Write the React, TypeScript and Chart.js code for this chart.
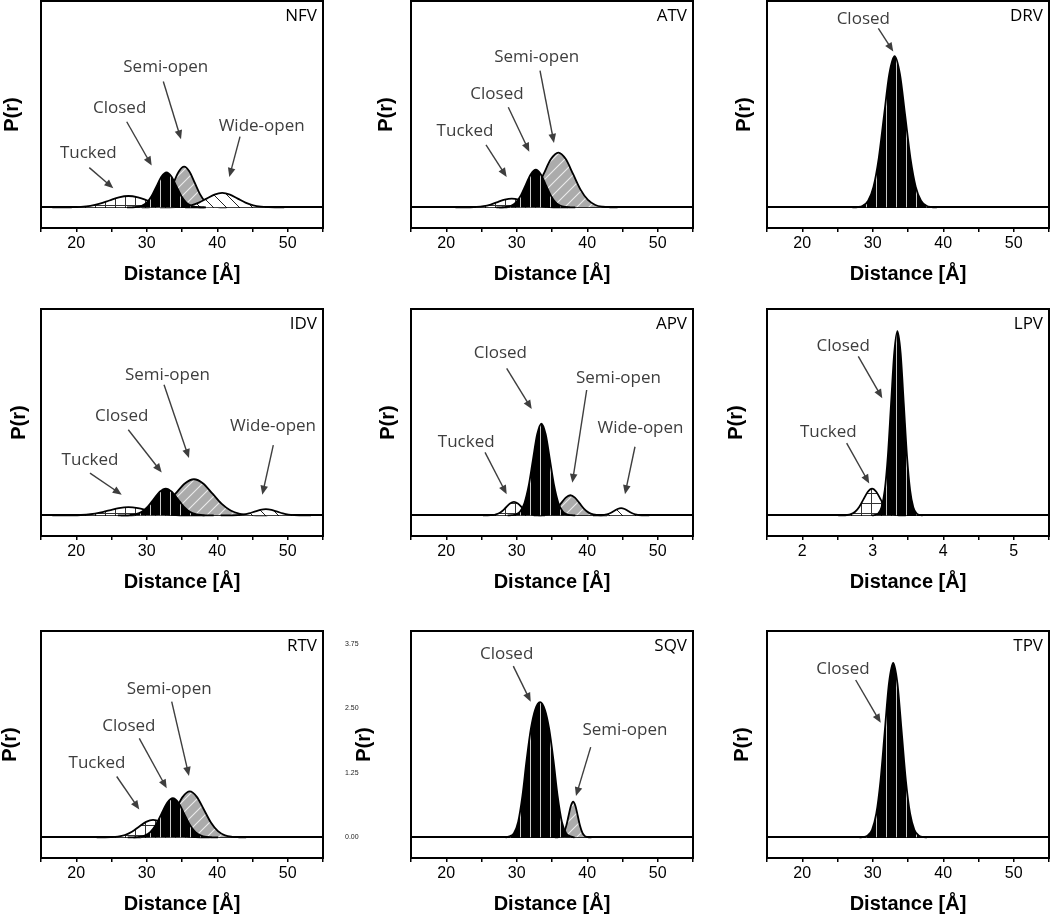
import React, { useEffect, useRef } from 'react';
import { Chart, registerables } from 'chart.js';

Chart.register(...registerables);

// ---------------- data ----------------
const X_TICKS_DIST = [15, 20, 25, 30, 35, 40, 45, 50, 55];
const X_LABELS_DIST = [20, 30, 40, 50];
const X_TICKS_LPV = [1.5, 2, 2.5, 3, 3.5, 4, 4.5, 5, 5.5];
const X_LABELS_LPV = [2, 3, 4, 5];
const Y_TICKS_SQV = [0, 1.25, 2.5, 3.75];
const Y_TICKS_PLAIN = [0];
const X_TITLE = 'Distance [Å]';
const Y_TITLE = 'P(r)';

const NFV_TUCKED_X = [16.6, 17.95, 19.3, 20.65, 22.0, 23.35, 24.7, 26.05, 27.4, 28.75, 30.1, 31.45, 32.8, 34.15, 35.5, 36.85, 38.2];
const NFV_TUCKED_Y = [0, 0.0005, 0.0024, 0.0097, 0.0298, 0.0714, 0.1334, 0.1942, 0.22, 0.1942, 0.1334, 0.0714, 0.0298, 0.0097, 0.0024, 0.0005, 0];
const NFV_CLOSED_X = [27.2, 27.9, 28.6, 29.3, 30.0, 30.7, 31.4, 32.1, 32.8, 33.5, 34.2, 34.9, 35.6, 36.3, 37.0, 37.7, 38.4];
const NFV_CLOSED_Y = [0, 0.0015, 0.0075, 0.0299, 0.092, 0.2208, 0.4124, 0.6001, 0.68, 0.6001, 0.4124, 0.2208, 0.092, 0.0299, 0.0075, 0.0015, 0];
const NFV_SEMI_X = [29.3, 30.05, 30.8, 31.55, 32.3, 33.05, 33.8, 34.55, 35.3, 36.05, 36.8, 37.55, 38.3, 39.05, 39.8, 40.55, 41.3];
const NFV_SEMI_Y = [0, 0.0017, 0.0088, 0.0347, 0.1069, 0.2565, 0.4791, 0.6972, 0.79, 0.6972, 0.4791, 0.2565, 0.1069, 0.0347, 0.0088, 0.0017, 0];
const NFV_WIDE_X = [31.9, 33.0, 34.1, 35.2, 36.3, 37.4, 38.5, 39.6, 40.7, 41.8, 42.9, 44.0, 45.1, 46.2, 47.3, 48.4, 49.5];
const NFV_WIDE_Y = [0, 0.0006, 0.0031, 0.0123, 0.0379, 0.0909, 0.1698, 0.2471, 0.28, 0.2471, 0.1698, 0.0909, 0.0379, 0.0123, 0.0031, 0.0006, 0];

const ATV_TUCKED_X = [21.3, 22.3, 23.3, 24.3, 25.3, 26.3, 27.3, 28.3, 29.3, 30.3, 31.3, 32.3, 33.3, 34.3, 35.3, 36.3, 37.3];
const ATV_TUCKED_Y = [0, 0.0004, 0.0019, 0.0075, 0.023, 0.0552, 0.1031, 0.15, 0.17, 0.15, 0.1031, 0.0552, 0.023, 0.0075, 0.0019, 0.0004, 0];
const ATV_CLOSED_X = [27.1, 27.8, 28.5, 29.2, 29.9, 30.6, 31.3, 32.0, 32.7, 33.4, 34.1, 34.8, 35.5, 36.2, 36.9, 37.6, 38.3];
const ATV_CLOSED_Y = [0, 0.0016, 0.0081, 0.032, 0.0988, 0.237, 0.4427, 0.6442, 0.73, 0.6442, 0.4427, 0.237, 0.0988, 0.032, 0.0081, 0.0016, 0];
const ATV_SEMI_X = [27.5, 28.55, 29.6, 30.65, 31.7, 32.75, 33.8, 34.85, 35.9, 36.95, 38.0, 39.05, 40.1, 41.15, 42.2, 43.25, 44.3];
const ATV_SEMI_Y = [0, 0.0023, 0.0118, 0.0465, 0.1434, 0.3442, 0.6429, 0.9355, 1.06, 0.9355, 0.6429, 0.3442, 0.1434, 0.0465, 0.0118, 0.0023, 0];

const DRV_CLOSED_X = [27.1, 27.85, 28.6, 29.35, 30.1, 30.85, 31.6, 32.35, 33.1, 33.85, 34.6, 35.35, 36.1, 36.85, 37.6, 38.35, 39.1];
const DRV_CLOSED_Y = [0, 0.0064, 0.0325, 0.1286, 0.3964, 0.9514, 1.777, 2.5857, 2.93, 2.5857, 1.777, 0.9514, 0.3964, 0.1286, 0.0325, 0.0064, 0];

const IDV_TUCKED_X = [16.6, 17.95, 19.3, 20.65, 22.0, 23.35, 24.7, 26.05, 27.4, 28.75, 30.1, 31.45, 32.8, 34.15, 35.5, 36.85, 38.2];
const IDV_TUCKED_Y = [0, 0.0004, 0.0018, 0.007, 0.0216, 0.052, 0.097, 0.1412, 0.16, 0.1412, 0.097, 0.052, 0.0216, 0.007, 0.0018, 0.0004, 0];
const IDV_CLOSED_X = [25.9, 26.75, 27.6, 28.45, 29.3, 30.15, 31.0, 31.85, 32.7, 33.55, 34.4, 35.25, 36.1, 36.95, 37.8, 38.65, 39.5];
const IDV_CLOSED_Y = [0, 0.0011, 0.0058, 0.0228, 0.0704, 0.1688, 0.3154, 0.4589, 0.52, 0.4589, 0.3154, 0.1688, 0.0704, 0.0228, 0.0058, 0.0011, 0];
const IDV_SEMI_X = [26.3, 27.6, 28.9, 30.2, 31.5, 32.8, 34.1, 35.4, 36.7, 38.0, 39.3, 40.6, 41.9, 43.2, 44.5, 45.8, 47.1];
const IDV_SEMI_Y = [0, 0.0015, 0.0078, 0.0307, 0.0947, 0.2273, 0.4246, 0.6178, 0.7, 0.6178, 0.4246, 0.2273, 0.0947, 0.0307, 0.0078, 0.0015, 0];
const IDV_WIDE_X = [40.5, 41.3, 42.1, 42.9, 43.7, 44.5, 45.3, 46.1, 46.9, 47.7, 48.5, 49.3, 50.1, 50.9, 51.7, 52.5, 53.3];
const IDV_WIDE_Y = [0, 0.0003, 0.0013, 0.0053, 0.0162, 0.039, 0.0728, 0.1059, 0.12, 0.1059, 0.0728, 0.039, 0.0162, 0.0053, 0.0013, 0.0003, 0];

const APV_TUCKED_X = [25.2, 25.75, 26.3, 26.85, 27.4, 27.95, 28.5, 29.05, 29.6, 30.15, 30.7, 31.25, 31.8, 32.35, 32.9, 33.45, 34.0];
const APV_TUCKED_Y = [0, 0.0006, 0.0029, 0.0114, 0.0352, 0.0844, 0.1577, 0.2295, 0.26, 0.2295, 0.1577, 0.0844, 0.0352, 0.0114, 0.0029, 0.0006, 0];
const APV_CLOSED_X = [28.7, 29.3, 29.9, 30.5, 31.1, 31.7, 32.3, 32.9, 33.5, 34.1, 34.7, 35.3, 35.9, 36.5, 37.1, 37.7, 38.3];
const APV_CLOSED_Y = [0, 0.0039, 0.0198, 0.0781, 0.2408, 0.578, 1.0796, 1.5709, 1.78, 1.5709, 1.0796, 0.578, 0.2408, 0.0781, 0.0198, 0.0039, 0];
const APV_SEMI_X = [32.4, 33.05, 33.7, 34.35, 35.0, 35.65, 36.3, 36.95, 37.6, 38.25, 38.9, 39.55, 40.2, 40.85, 41.5, 42.15, 42.8];
const APV_SEMI_Y = [0, 0.0009, 0.0043, 0.0171, 0.0528, 0.1266, 0.2365, 0.3442, 0.39, 0.3442, 0.2365, 0.1266, 0.0528, 0.0171, 0.0043, 0.0009, 0];
const APV_WIDE_X = [40.8, 41.3, 41.8, 42.3, 42.8, 43.3, 43.8, 44.3, 44.8, 45.3, 45.8, 46.3, 46.8, 47.3, 47.8, 48.3, 48.8];
const APV_WIDE_Y = [0, 0.0003, 0.0016, 0.0061, 0.0189, 0.0455, 0.0849, 0.1236, 0.14, 0.1236, 0.0849, 0.0455, 0.0189, 0.0061, 0.0016, 0.0003, 0];

const LPV_TUCKED_X = [2.51, 2.57, 2.63, 2.69, 2.75, 2.81, 2.87, 2.93, 2.99, 3.05, 3.11, 3.17, 3.23, 3.29, 3.35, 3.41, 3.47];
const LPV_TUCKED_Y = [0, 0.0011, 0.0058, 0.0228, 0.0704, 0.1688, 0.3154, 0.4589, 0.52, 0.4589, 0.3154, 0.1688, 0.0704, 0.0228, 0.0058, 0.0011, 0];
const LPV_CLOSED_X = [2.99, 3.035, 3.08, 3.125, 3.17, 3.215, 3.26, 3.305, 3.35, 3.395, 3.44, 3.485, 3.53, 3.575, 3.62, 3.665, 3.71];
const LPV_CLOSED_Y = [0, 0.0079, 0.0396, 0.1567, 0.483, 1.1592, 2.1652, 3.1505, 3.57, 3.1505, 2.1652, 1.1592, 0.483, 0.1567, 0.0396, 0.0079, 0];

const RTV_TUCKED_X = [22.9, 23.9, 24.9, 25.9, 26.9, 27.9, 28.9, 29.9, 30.9, 31.9, 32.9, 33.9, 34.9, 35.9, 36.9, 37.9, 38.9];
const RTV_TUCKED_Y = [0, 0.0007, 0.0038, 0.0149, 0.046, 0.1104, 0.2062, 0.3001, 0.34, 0.3001, 0.2062, 0.1104, 0.046, 0.0149, 0.0038, 0.0007, 0];
const RTV_CLOSED_X = [27.3, 28.1, 28.9, 29.7, 30.5, 31.3, 32.1, 32.9, 33.7, 34.5, 35.3, 36.1, 36.9, 37.7, 38.5, 39.3, 40.1];
const RTV_CLOSED_Y = [0, 0.0017, 0.0084, 0.0334, 0.1028, 0.2468, 0.4609, 0.6707, 0.76, 0.6707, 0.4609, 0.2468, 0.1028, 0.0334, 0.0084, 0.0017, 0];
const RTV_SEMI_X = [28.1, 29.1, 30.1, 31.1, 32.1, 33.1, 34.1, 35.1, 36.1, 37.1, 38.1, 39.1, 40.1, 41.1, 42.1, 43.1, 44.1];
const RTV_SEMI_Y = [0, 0.002, 0.0099, 0.039, 0.1204, 0.289, 0.5398, 0.7854, 0.89, 0.7854, 0.5398, 0.289, 0.1204, 0.039, 0.0099, 0.002, 0];

const SQV_CLOSED_X = [28.4, 29.0, 29.6, 30.2, 30.8, 31.4, 32.0, 32.6, 33.3, 34.0, 34.6, 35.2, 35.8, 36.4, 37.0, 37.6, 38.2];
const SQV_CLOSED_Y = [0, 0.02, 0.08, 0.3, 0.8, 1.5, 2.1, 2.47, 2.62, 2.47, 2.1, 1.5, 0.8, 0.3, 0.08, 0.02, 0];
const SQV_SEMI_X = [35.4, 35.725, 36.05, 36.375, 36.7, 37.025, 37.35, 37.675, 38.0, 38.325, 38.65, 38.975, 39.3, 39.625, 39.95, 40.275, 40.6];
const SQV_SEMI_Y = [0, 0.0015, 0.0077, 0.0303, 0.0934, 0.224, 0.4185, 0.6089, 0.69, 0.6089, 0.4185, 0.224, 0.0934, 0.0303, 0.0077, 0.0015, 0];

const TPV_CLOSED_X = [28.1, 28.7, 29.3, 29.9, 30.5, 31.1, 31.7, 32.3, 32.9, 33.5, 34.1, 34.7, 35.3, 35.9, 36.5, 37.1, 37.7];
const TPV_CLOSED_Y = [0, 0.0074, 0.0375, 0.1484, 0.4573, 1.0975, 2.05, 2.9829, 3.38, 2.9829, 2.05, 1.0975, 0.4573, 0.1484, 0.0375, 0.0074, 0];

// annotation labels with arrows, in data units: [text, textX, textY, fromX, fromY, toX, toY]
type Note = [string, number, number, number, number, number, number];
const NFV_NOTES: Note[] = [
  ['Tucked', 21.71, 1.06, 21.85, 0.77, 25.26, 0.37],
  ['Closed', 26.16, 1.92, 27.16, 1.66, 30.7, 0.81],
  ['Semi-open', 32.7, 2.71, 32.35, 2.44, 34.86, 1.32],
  ['Wide-open', 46.3, 1.58, 43.23, 1.37, 41.71, 0.59],
];
const ATV_NOTES: Note[] = [
  ['Semi-open', 32.83, 2.92, 33.3, 2.65, 35.28, 1.25],
  ['Closed', 27.2, 2.19, 28.8, 1.94, 31.78, 1.08],
  ['Tucked', 22.66, 1.47, 25.64, 1.21, 28.57, 0.59],
];
const DRV_NOTES: Note[] = [['Closed', 28.66, 3.65, 30.79, 3.47, 32.91, 3.02]];
const IDV_NOTES: Note[] = [
  ['Semi-open', 32.94, 2.72, 32.45, 2.53, 35.99, 1.11],
  ['Closed', 26.45, 1.93, 27.38, 1.66, 32.12, 0.83],
  ['Tucked', 21.95, 1.07, 21.95, 0.82, 26.45, 0.4],
  ['Wide-open', 47.91, 1.73, 47.95, 1.36, 46.39, 0.4],
];
const APV_NOTES: Note[] = [
  ['Closed', 27.67, 3.14, 28.57, 2.85, 32.12, 2.06],
  ['Semi-open', 44.43, 2.66, 39.92, 2.43, 37.88, 0.63],
  ['Wide-open', 47.55, 1.69, 46.77, 1.33, 45.35, 0.41],
  ['Tucked', 22.83, 1.41, 25.5, 1.22, 28.57, 0.41],
];
const LPV_NOTES: Note[] = [
  ['Closed', 2.58, 3.28, 2.795, 3.08, 3.135, 2.27],
  ['Tucked', 2.37, 1.62, 2.63, 1.4, 2.95, 0.62],
];
const RTV_NOTES: Note[] = [
  ['Semi-open', 33.18, 2.87, 33.54, 2.63, 35.99, 1.19],
  ['Closed', 27.46, 2.15, 28.94, 1.92, 32.83, 0.95],
  ['Tucked', 22.94, 1.44, 25.74, 1.18, 28.94, 0.54],
];
const SQV_NOTES: Note[] = [
  ['Closed', 28.57, 3.55, 29.51, 3.32, 31.98, 2.63],
  ['Semi-open', 45.35, 2.08, 40.49, 1.75, 38.4, 0.8],
];
const TPV_NOTES: Note[] = [['Closed', 25.78, 3.26, 27.58, 3.05, 31.13, 2.22]];

type State = 'tucked' | 'closed' | 'semi' | 'wide';
type Comp = { state: State; x: number[]; y: number[] };
type PanelCfg = {
  name: string; row: number; col: number; xMin: number; xMax: number;
  xTicks: number[]; xLabels: number[]; yTicks: number[]; showY: boolean;
  yTitleGap: number; comps: Comp[]; notes: Note[];
};

const PANELS: PanelCfg[] = [
  { name: 'NFV', row: 0, col: 0, xMin: 15, xMax: 55, xTicks: X_TICKS_DIST, xLabels: X_LABELS_DIST, yTicks: Y_TICKS_PLAIN, showY: false, yTitleGap: 29,
    comps: [{ state: 'tucked', x: NFV_TUCKED_X, y: NFV_TUCKED_Y }, { state: 'closed', x: NFV_CLOSED_X, y: NFV_CLOSED_Y }, { state: 'semi', x: NFV_SEMI_X, y: NFV_SEMI_Y }, { state: 'wide', x: NFV_WIDE_X, y: NFV_WIDE_Y }], notes: NFV_NOTES },
  { name: 'ATV', row: 0, col: 1, xMin: 15, xMax: 55, xTicks: X_TICKS_DIST, xLabels: X_LABELS_DIST, yTicks: Y_TICKS_PLAIN, showY: false, yTitleGap: 25,
    comps: [{ state: 'tucked', x: ATV_TUCKED_X, y: ATV_TUCKED_Y }, { state: 'closed', x: ATV_CLOSED_X, y: ATV_CLOSED_Y }, { state: 'semi', x: ATV_SEMI_X, y: ATV_SEMI_Y }], notes: ATV_NOTES },
  { name: 'DRV', row: 0, col: 2, xMin: 15, xMax: 55, xTicks: X_TICKS_DIST, xLabels: X_LABELS_DIST, yTicks: Y_TICKS_PLAIN, showY: false, yTitleGap: 23,
    comps: [{ state: 'closed', x: DRV_CLOSED_X, y: DRV_CLOSED_Y }], notes: DRV_NOTES },
  { name: 'IDV', row: 1, col: 0, xMin: 15, xMax: 55, xTicks: X_TICKS_DIST, xLabels: X_LABELS_DIST, yTicks: Y_TICKS_PLAIN, showY: false, yTitleGap: 22,
    comps: [{ state: 'tucked', x: IDV_TUCKED_X, y: IDV_TUCKED_Y }, { state: 'closed', x: IDV_CLOSED_X, y: IDV_CLOSED_Y }, { state: 'semi', x: IDV_SEMI_X, y: IDV_SEMI_Y }, { state: 'wide', x: IDV_WIDE_X, y: IDV_WIDE_Y }], notes: IDV_NOTES },
  { name: 'APV', row: 1, col: 1, xMin: 15, xMax: 55, xTicks: X_TICKS_DIST, xLabels: X_LABELS_DIST, yTicks: Y_TICKS_PLAIN, showY: false, yTitleGap: 23,
    comps: [{ state: 'tucked', x: APV_TUCKED_X, y: APV_TUCKED_Y }, { state: 'closed', x: APV_CLOSED_X, y: APV_CLOSED_Y }, { state: 'semi', x: APV_SEMI_X, y: APV_SEMI_Y }, { state: 'wide', x: APV_WIDE_X, y: APV_WIDE_Y }], notes: APV_NOTES },
  { name: 'LPV', row: 1, col: 2, xMin: 1.5, xMax: 5.5, xTicks: X_TICKS_LPV, xLabels: X_LABELS_LPV, yTicks: Y_TICKS_PLAIN, showY: false, yTitleGap: 31,
    comps: [{ state: 'tucked', x: LPV_TUCKED_X, y: LPV_TUCKED_Y }, { state: 'closed', x: LPV_CLOSED_X, y: LPV_CLOSED_Y }], notes: LPV_NOTES },
  { name: 'RTV', row: 2, col: 0, xMin: 15, xMax: 55, xTicks: X_TICKS_DIST, xLabels: X_LABELS_DIST, yTicks: Y_TICKS_PLAIN, showY: false, yTitleGap: 31,
    comps: [{ state: 'tucked', x: RTV_TUCKED_X, y: RTV_TUCKED_Y }, { state: 'closed', x: RTV_CLOSED_X, y: RTV_CLOSED_Y }, { state: 'semi', x: RTV_SEMI_X, y: RTV_SEMI_Y }], notes: RTV_NOTES },
  { name: 'SQV', row: 2, col: 1, xMin: 15, xMax: 55, xTicks: X_TICKS_DIST, xLabels: X_LABELS_DIST, yTicks: Y_TICKS_SQV, showY: true, yTitleGap: 47,
    comps: [{ state: 'closed', x: SQV_CLOSED_X, y: SQV_CLOSED_Y }, { state: 'semi', x: SQV_SEMI_X, y: SQV_SEMI_Y }], notes: SQV_NOTES },
  { name: 'TPV', row: 2, col: 2, xMin: 15, xMax: 55, xTicks: X_TICKS_DIST, xLabels: X_LABELS_DIST, yTicks: Y_TICKS_PLAIN, showY: false, yTitleGap: 25,
    comps: [{ state: 'closed', x: TPV_CLOSED_X, y: TPV_CLOSED_Y }], notes: TPV_NOTES },
];

// ---------------- layout ----------------
const COL_LEFT = [41, 411, 767];
const ROW_TOP = [1, 309, 631];
const BOX_W = 282;
const BOX_H = 227;
const PAD_L = 66;
const PAD_T = 6;
const PAD_R = 4;
const PAD_B = 62;
const CW = PAD_L + BOX_W + PAD_R;
const CH = PAD_T + BOX_H + PAD_B;
const DRAW_ORDER: Record<State, number> = { closed: 1, tucked: 2, wide: 3, semi: 4 };

function makePattern(state: State): CanvasPattern | string {
  const c = document.createElement('canvas');
  const g = c.getContext('2d');
  if (!g) return '#888';
  if (state === 'closed') {
    c.width = 10; c.height = 4;
    g.fillStyle = '#000'; g.fillRect(0, 0, 10, 4);
    g.fillStyle = '#c8c8c8'; g.fillRect(5, 0, 1, 4);
  } else if (state === 'tucked') {
    c.width = 10; c.height = 10;
    g.fillStyle = '#fff'; g.fillRect(0, 0, 10, 10);
    g.fillStyle = '#333'; g.fillRect(0, 0, 1, 10); g.fillRect(0, 0, 10, 1);
  } else if (state === 'semi') {
    const p = 12;
    c.width = p; c.height = p;
    g.fillStyle = '#ababab'; g.fillRect(0, 0, p, p);
    g.strokeStyle = '#ececec'; g.lineWidth = 1.1;
    g.beginPath();
    g.moveTo(0, p); g.lineTo(p, 0);
    g.moveTo(-2, 2); g.lineTo(2, -2);
    g.moveTo(p - 2, p + 2); g.lineTo(p + 2, p - 2);
    g.stroke();
  } else {
    const p = 13;
    c.width = p; c.height = p;
    g.fillStyle = '#fff'; g.fillRect(0, 0, p, p);
    g.strokeStyle = '#222'; g.lineWidth = 1;
    g.beginPath();
    g.moveTo(0, 0); g.lineTo(p, p);
    g.moveTo(p - 2, -2); g.lineTo(p + 2, 2);
    g.moveTo(-2, p - 2); g.lineTo(2, p + 2);
    g.stroke();
  }
  const pat = g.createPattern(c, 'repeat');
  return pat || '#888';
}

function Panel({ cfg }: { cfg: PanelCfg }) {
  const ref = useRef<HTMLCanvasElement>(null);
  useEffect(() => {
    const canvas = ref.current;
    if (!canvas) return;
    const decor = {
      id: 'decor' + cfg.name,
      afterDraw(chart: any) {
        const ctx = chart.ctx as CanvasRenderingContext2D;
        const a = chart.chartArea;
        const xs = chart.scales.x;
        const ys = chart.scales.y;
        ctx.save();
        // annotations
        ctx.font = '17px "Open Sans"';
        for (const n of cfg.notes) {
          const [text, tx, ty, fx, fy, ex, ey] = n;
          ctx.fillStyle = '#3e3e3e';
          ctx.textAlign = 'center';
          ctx.textBaseline = 'middle';
          ctx.fillText(text, xs.getPixelForValue(tx), ys.getPixelForValue(ty));
          const x0 = xs.getPixelForValue(fx), y0 = ys.getPixelForValue(fy);
          const x1 = xs.getPixelForValue(ex), y1 = ys.getPixelForValue(ey);
          const dx = x1 - x0, dy = y1 - y0;
          const len = Math.hypot(dx, dy) || 1;
          const ux = dx / len, uy = dy / len;
          const hl = 9, hw = 3.8;
          ctx.strokeStyle = '#3e3e3e';
          ctx.lineWidth = 1.4;
          ctx.beginPath();
          ctx.moveTo(x0, y0);
          ctx.lineTo(x1 - ux * (hl - 2), y1 - uy * (hl - 2));
          ctx.stroke();
          ctx.fillStyle = '#3e3e3e';
          ctx.beginPath();
          ctx.moveTo(x1, y1);
          ctx.lineTo(x1 - ux * hl - uy * hw, y1 - uy * hl + ux * hw);
          ctx.lineTo(x1 - ux * hl + uy * hw, y1 - uy * hl - ux * hw);
          ctx.closePath();
          ctx.fill();
        }
        // frame
        ctx.strokeStyle = '#000';
        ctx.lineWidth = 2;
        ctx.strokeRect(a.left, a.top, a.right - a.left, a.bottom - a.top);
        // panel name
        ctx.fillStyle = '#000';
        ctx.font = '17px "Open Sans"';
        ctx.textAlign = 'right';
        ctx.textBaseline = 'middle';
        ctx.fillText(cfg.name, a.right - 6, a.top + 15);
        // y title
        ctx.translate(a.left - cfg.yTitleGap, (a.top + a.bottom) / 2);
        ctx.rotate(-Math.PI / 2);
        ctx.font = 'bold 20px "Liberation Sans"';
        ctx.textAlign = 'center';
        ctx.textBaseline = 'middle';
        ctx.fillText(Y_TITLE, 0, 0);
        ctx.restore();
      },
    };
    const chart = new Chart(canvas, {
      type: 'line',
      data: {
        datasets: cfg.comps.map((c) => ({
          label: c.state,
          data: c.x.map((x, i) => ({ x, y: c.y[i] })),
          borderColor: '#000',
          borderWidth: 1.8,
          pointRadius: 0,
          fill: 'origin',
          backgroundColor: makePattern(c.state) as any,
          cubicInterpolationMode: 'monotone',
          order: DRAW_ORDER[c.state],
        })),
      },
      options: {
        responsive: false,
        maintainAspectRatio: false,
        animation: false,
        devicePixelRatio: 1,
        layout: { padding: { left: 0, top: PAD_T, right: PAD_R, bottom: 0 } },
        plugins: { legend: { display: false }, tooltip: { enabled: false }, title: { display: false } },
        events: [],
        scales: {
          x: {
            type: 'linear',
            min: cfg.xMin,
            max: cfg.xMax,
            afterBuildTicks: (s: any) => { s.ticks = cfg.xTicks.map((v) => ({ value: v })); },
            afterFit: (s: any) => { s.height = PAD_B; },
            ticks: {
              autoSkip: false,
              maxRotation: 0,
              padding: 2,
              color: '#000',
              font: { family: '"Liberation Sans"', size: 16 },
              callback: (v: any) => (cfg.xLabels.includes(Number(v)) ? String(v) : ''),
            },
            grid: { drawOnChartArea: false, drawTicks: true, tickLength: 4, color: '#000', lineWidth: 1.5 },
            border: { display: false },
            title: {
              display: true,
              text: X_TITLE,
              color: '#000',
              font: { family: '"Liberation Sans"', size: 20, weight: 'bold' },
              padding: { top: 0, bottom: 4 },
            },
          },
          y: {
            type: 'linear',
            min: -0.4,
            max: 4.0,
            z: 1,
            afterBuildTicks: (s: any) => { s.ticks = cfg.yTicks.map((v) => ({ value: v })); },
            afterFit: (s: any) => { s.width = PAD_L; },
            ticks: {
              display: cfg.showY,
              padding: 0,
              crossAlign: 'far',
              color: '#222',
              font: { family: '"Liberation Sans"', size: 7 },
              callback: (v: any) => Number(v).toFixed(2),
            },
            grid: {
              drawTicks: false,
              lineWidth: 2,
              color: (ctx: any) => (ctx.tick && ctx.tick.value === 0 ? '#000' : 'rgba(0,0,0,0)'),
            },
            border: { display: false },
          },
        },
      } as any,
      plugins: [decor],
    });
    return () => chart.destroy();
  }, [cfg]);
  return (
    <canvas
      ref={ref}
      width={CW}
      height={CH}
      style={{ position: 'absolute', left: COL_LEFT[cfg.col] - PAD_L, top: ROW_TOP[cfg.row] - PAD_T, width: CW, height: CH }}
    />
  );
}

export default function App() {
  return (
    <div style={{ position: 'absolute', left: 0, top: 0, width: 1050, height: 916, overflow: 'hidden', background: '#fff' }}>
      {PANELS.map((p) => (
        <Panel key={p.name} cfg={p} />
      ))}
    </div>
  );
}
